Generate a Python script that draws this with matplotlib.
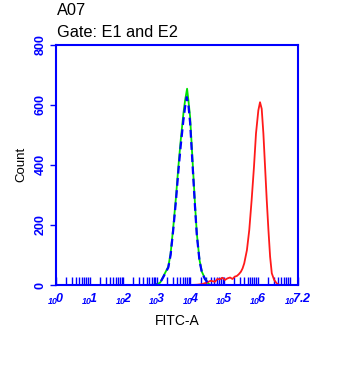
import matplotlib
matplotlib.use("Agg")
import matplotlib.pyplot as plt
from matplotlib.ticker import FixedLocator, NullFormatter, LogLocator, FuncFormatter

plt.rcParams['font.family'] = ['Liberation Sans', 'DejaVu Sans']
plt.rcParams['mathtext.fontset'] = 'custom'
plt.rcParams['mathtext.rm'] = 'Liberation Sans'
plt.rcParams['mathtext.it'] = 'Liberation Sans:italic:bold'
plt.rcParams['mathtext.bf'] = 'Liberation Sans:italic:bold'

# log10(FITC-A) positions and counts
green_log = [2.80, 2.90, 3.00, 3.10, 3.19, 3.34, 3.41, 3.49, 3.57, 3.64, 3.71, 3.79, 3.84,
             3.90, 3.94, 3.99, 4.04, 4.09, 4.14, 4.19, 4.27, 4.34, 4.43, 4.53, 4.60,
             5.50, 5.70, 5.90, 6.10, 6.30]
green_cnt = [0, 0, 2, 8, 28, 61, 105, 194, 293, 393, 481, 570, 614,
             653, 614, 559, 459, 359, 260, 171, 83, 44, 22, 5, 0,
             0, 0, 0, 0, 0]

blue_log = [2.80, 2.90, 3.00, 3.10, 3.19, 3.34, 3.41, 3.49, 3.57, 3.64, 3.71, 3.79, 3.84,
            3.89, 3.94, 3.99, 4.04, 4.09, 4.14, 4.19, 4.27, 4.34, 4.43, 4.53, 4.60, 5.00]
blue_cnt = [0, 0, 2, 8, 26, 58, 100, 186, 282, 378, 463, 548, 592,
            625, 598, 540, 444, 347, 252, 166, 80, 42, 20, 5, 0, 0]

red_log = [4.00, 4.20, 4.35, 4.48, 4.60, 4.73, 4.80, 4.88, 4.95, 5.03, 5.10, 5.18, 5.25,
           5.32, 5.38, 5.44, 5.50, 5.55, 5.60, 5.68, 5.75, 5.82, 5.89, 5.95, 6.02,
           6.07, 6.12, 6.17, 6.22, 6.27, 6.32, 6.37, 6.42, 6.49, 6.57, 6.65]
red_cnt = [0, 1, 3, 8, 14, 11, 20, 19, 24, 17, 22, 25, 20,
           28, 30, 36, 44, 55, 72, 116, 183, 282, 393, 504, 581,
           608, 586, 504, 393, 282, 183, 94, 39, 17, 5, 0]

yticks = [0, 200, 400, 600, 800]
xtick_exps = [0, 1, 2, 3, 4, 5, 6, 7.2]

fig = plt.figure(figsize=(3.56, 3.84), dpi=100)
ax = fig.add_axes([0.1573, 0.2578, 0.6798, 0.6263])

blue = '#0000ff'
ax.plot([10 ** v for v in green_log], green_cnt, color='#00e000', lw=1.3, zorder=2)
ax.plot([10 ** v for v in blue_log], blue_cnt, color=blue, lw=1.6, ls=(0, (3.5, 2)), zorder=3)
ax.plot([10 ** v for v in red_log], red_cnt, color='#ff1a1a', lw=1.3, zorder=2)

ax.set_xscale('log')
ax.set_xlim(1, 10 ** 7.2)
ax.set_ylim(0, 800)

for s in ax.spines.values():
    s.set_color(blue)
    s.set_linewidth(1.5)

ax.xaxis.set_major_locator(FixedLocator([10 ** e for e in xtick_exps]))
ax.xaxis.set_minor_locator(LogLocator(base=10, subs=range(2, 10), numticks=20))
ax.xaxis.set_minor_formatter(NullFormatter())

def fmt(v, pos):
    e = xtick_exps[pos] if pos is not None and pos < len(xtick_exps) else 0
    return r'$\mathbf{_{10}}\!\mathbf{%s}$' % ('%g' % e)

ax.xaxis.set_major_formatter(FuncFormatter(fmt))
ax.tick_params(axis='x', which='both', direction='in', length=5.5, width=1, color=blue,
               labelcolor=blue, labelsize=9, pad=5)

ax.set_yticks(yticks)
ax.set_yticklabels([str(v) for v in yticks], rotation=90, va='center')
ax.tick_params(axis='y', direction='out', length=4, width=1, color=blue,
               labelcolor=blue, labelsize=9, pad=3)
for lab in ax.get_yticklabels():
    lab.set_fontweight('bold')

ax.set_xlabel('FITC-A', fontsize=10, labelpad=5)
ax.set_ylabel('Count', fontsize=9.5, labelpad=5)

fig.text(57 / 356, 1 - 10.5 / 384, 'A07', fontsize=11.8, va='center', ha='left')
fig.text(57 / 356, 1 - 32.5 / 384, 'Gate: E1 and E2', fontsize=11.8, va='center', ha='left')

fig.savefig('out.png', dpi=100)
